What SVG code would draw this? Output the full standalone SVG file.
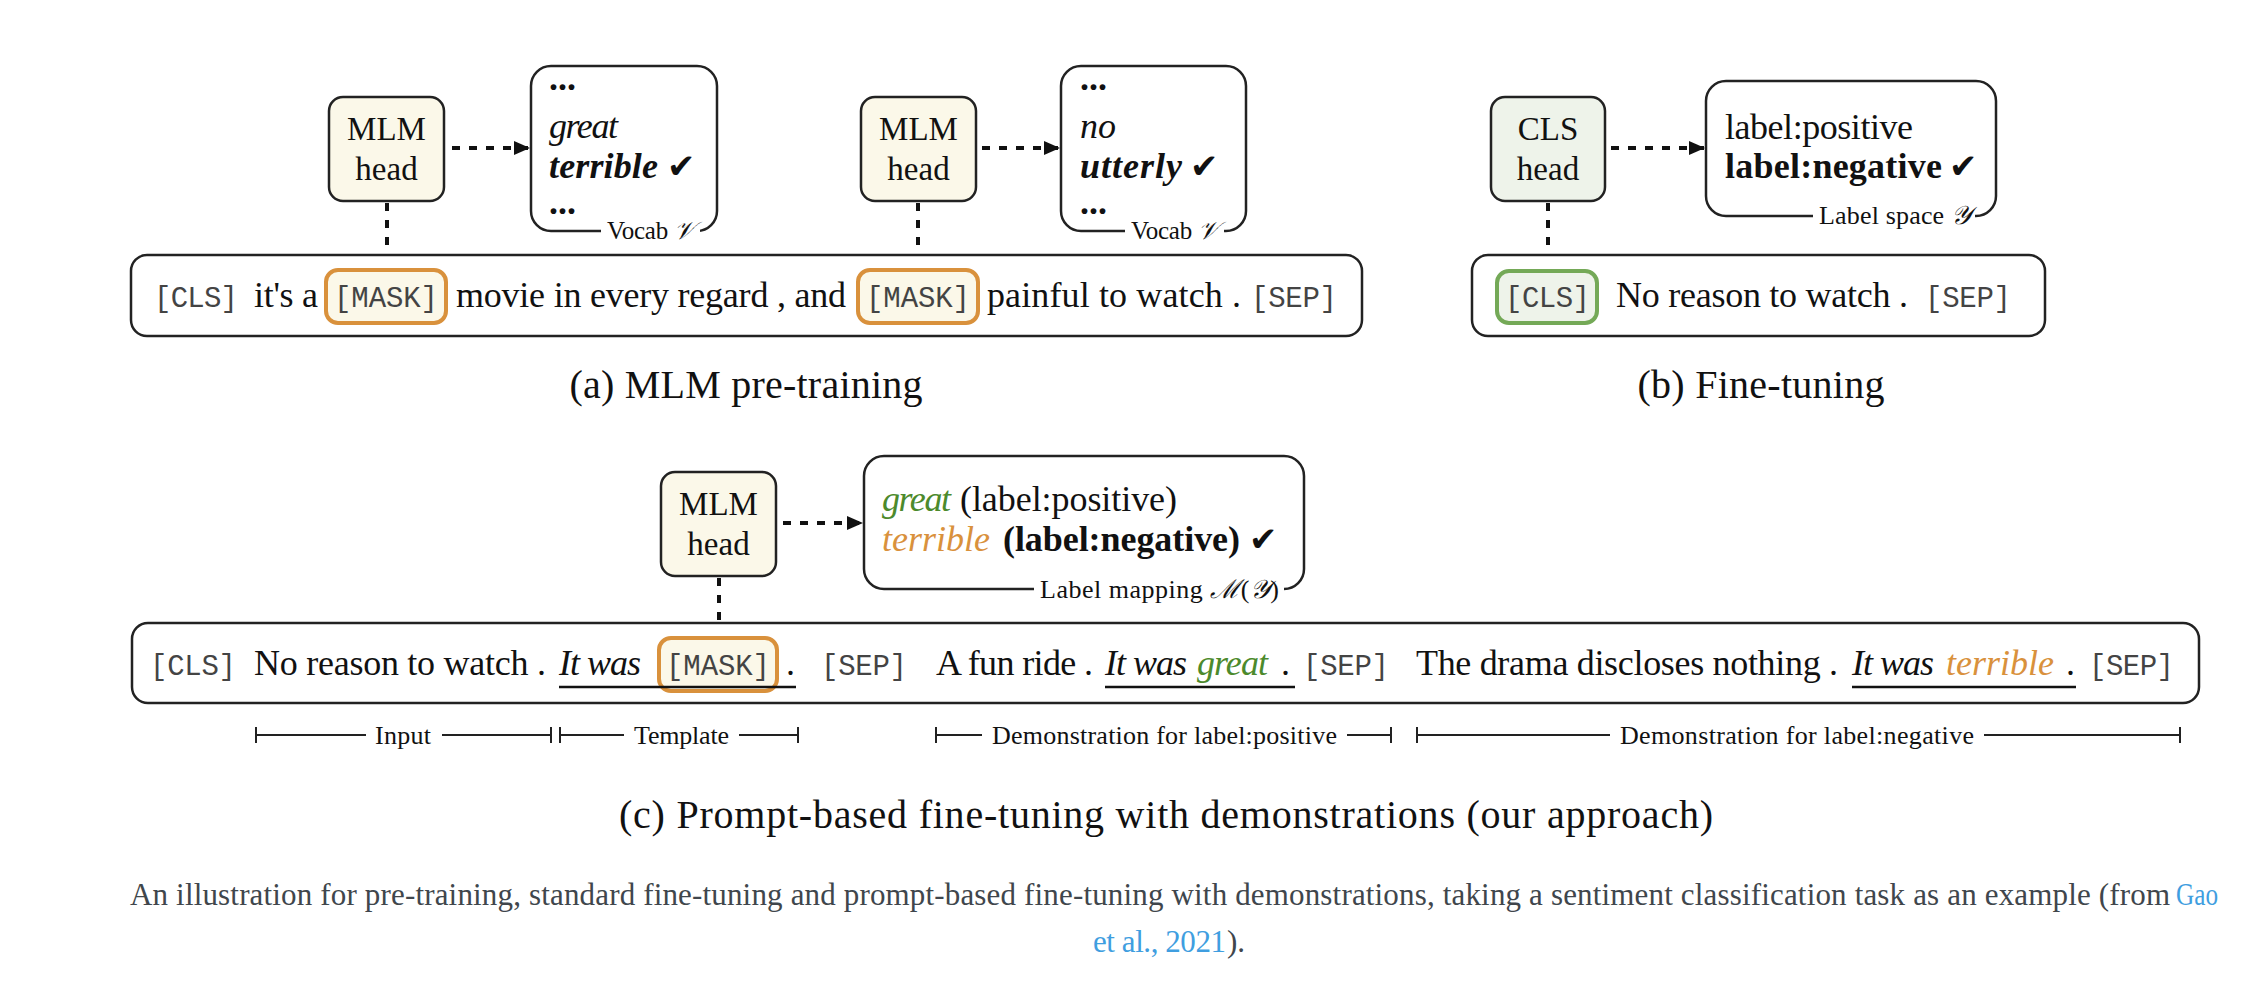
<svg xmlns="http://www.w3.org/2000/svg" width="2244" height="994" viewBox="0 0 2244 994">
<defs>
<style>
.s{font-family:"Liberation Serif",serif;fill:#111}
.m{font-family:"Liberation Mono",monospace;fill:#444;font-size:29px}
.t{font-size:36px}
.h{font-size:33px;text-anchor:middle}
.i{font-style:italic}
.b{font-weight:bold}
.sm{font-size:26px}
.vc{font-size:25px}
.cap{font-size:40px;text-anchor:middle}
.ck{font-family:"DejaVu Sans",sans-serif;font-size:34px;fill:#111}
.box{fill:#fff;stroke:#222;stroke-width:2.5}
.mlm{fill:#fbf8e9;stroke:#222;stroke-width:2.5}
.cls{fill:#eef3ea;stroke:#222;stroke-width:2.5}
.mask{fill:#fbf8e9;stroke:#d9913c;stroke-width:4}
.gbox{fill:#eef3ea;stroke:#74a957;stroke-width:4}
.dot{fill:none;stroke:#111;stroke-width:4;stroke-dasharray:8 9}
.ul{stroke:#111;stroke-width:2.5}
.br{stroke:#222;stroke-width:2;fill:none}
.gap{fill:#fff}
.grn{fill:#4c8a2c}
.org{fill:#d9913c}
.cp{font-family:"Liberation Serif",serif;font-size:31px;fill:#40464c}
.lnk{fill:#3f9ee0}
</style>
<marker id="ah" markerUnits="userSpaceOnUse" markerWidth="16" markerHeight="14" refX="16" refY="7" orient="auto">
<path d="M0,0 L16,7 L0,14 z" fill="#111"/>
</marker>
</defs>
<rect width="2244" height="994" fill="#fff"/>

<g id="connectors">
<line class="dot" x1="452" y1="148" x2="530" y2="148" marker-end="url(#ah)"/>
<line class="dot" x1="982" y1="148" x2="1060" y2="148" marker-end="url(#ah)"/>
<line class="dot" x1="1611" y1="148" x2="1705" y2="148" marker-end="url(#ah)"/>
<line class="dot" x1="783" y1="523" x2="863" y2="523" marker-end="url(#ah)"/>
<line class="dot" x1="387" y1="203" x2="387" y2="270"/>
<line class="dot" x1="918" y1="203" x2="918" y2="270"/>
<line class="dot" x1="1548" y1="203" x2="1548" y2="271"/>
<line class="dot" x1="719" y1="578" x2="719" y2="638"/>
</g>

<!-- Panel (a) -->
<g id="a-sentence">
<rect class="box" x="131" y="255" width="1231" height="81" rx="16"/>
<text class="m" x="154" y="307" textLength="84" lengthAdjust="spacing">[CLS]</text>
<text class="s t" x="254" y="307" textLength="64" lengthAdjust="spacing">it's a</text>
<rect class="mask" x="326" y="270" width="120" height="53" rx="12"/>
<text class="m" x="334" y="307" textLength="104" lengthAdjust="spacing">[MASK]</text>
<text class="s t" x="456" y="307" textLength="390" lengthAdjust="spacing">movie in every regard , and</text>
<rect class="mask" x="858" y="270" width="120" height="53" rx="12"/>
<text class="m" x="866" y="307" textLength="104" lengthAdjust="spacing">[MASK]</text>
<text class="s t" x="987" y="307" textLength="254" lengthAdjust="spacing">painful to watch .</text>
<text class="m" x="1251" y="307" textLength="86" lengthAdjust="spacing">[SEP]</text>
</g>
<g id="a-head1">
<rect class="mlm" x="329" y="97" width="115" height="104" rx="14"/>
<text class="s h" x="386.5" y="140">MLM</text>
<text class="s h" x="386.5" y="180">head</text>
</g>
<g id="a-vocab1">
<rect class="box" x="531" y="66" width="186" height="165" rx="20"/>
<rect class="gap" x="601" y="224" width="99" height="15"/>
<text class="s t b" x="549" y="90">...</text>
<text class="s t i" x="549" y="138" textLength="69" lengthAdjust="spacing">great</text>
<text class="s t i b" x="549" y="178" textLength="109" lengthAdjust="spacing">terrible</text>
<text class="ck" x="667" y="178">✔</text>
<text class="s t b" x="549" y="214">...</text>
<text class="s vc" x="607" y="239" textLength="88" lengthAdjust="spacing">Vocab <tspan class="i">𝒱</tspan></text>
</g>
<g id="a-head2">
<rect class="mlm" x="861" y="97" width="115" height="104" rx="14"/>
<text class="s h" x="918.5" y="140">MLM</text>
<text class="s h" x="918.5" y="180">head</text>
</g>
<g id="a-vocab2">
<rect class="box" x="1061" y="66" width="185" height="165" rx="20"/>
<rect class="gap" x="1125" y="224" width="99" height="15"/>
<text class="s t b" x="1080" y="90">...</text>
<text class="s t i" x="1080" y="138">no</text>
<text class="s t i b" x="1080" y="178" textLength="102" lengthAdjust="spacing">utterly</text>
<text class="ck" x="1190" y="178">✔</text>
<text class="s t b" x="1080" y="214">...</text>
<text class="s vc" x="1131" y="239" textLength="88" lengthAdjust="spacing">Vocab <tspan class="i">𝒱</tspan></text>
</g>
<g id="a-caption">
<text class="s cap" x="746" y="398" textLength="353" lengthAdjust="spacing">(a) MLM pre-training</text>
</g>

<!-- Panel (b) -->
<g id="b-sentence">
<rect class="box" x="1472" y="255" width="573" height="81" rx="16"/>
<rect class="gbox" x="1497" y="271" width="100" height="52" rx="12"/>
<text class="m" x="1505" y="307" textLength="85" lengthAdjust="spacing">[CLS]</text>
<text class="s t" x="1616" y="307" textLength="292" lengthAdjust="spacing">No reason to watch .</text>
<text class="m" x="1925" y="307" textLength="86" lengthAdjust="spacing">[SEP]</text>
</g>
<g id="b-head">
<rect class="cls" x="1491" y="97" width="114" height="104" rx="14"/>
<text class="s h" x="1548" y="140">CLS</text>
<text class="s h" x="1548" y="180">head</text>
</g>
<g id="b-labels">
<rect class="box" x="1706" y="81" width="290" height="135" rx="20"/>
<rect class="gap" x="1813" y="208" width="162" height="15"/>
<text class="s t" x="1725" y="139" textLength="188" lengthAdjust="spacing">label:positive</text>
<text class="s t b" x="1725" y="178" textLength="217" lengthAdjust="spacing">label:negative</text>
<text class="ck" x="1949" y="178">✔</text>
<text class="s sm" x="1819" y="224" textLength="152" lengthAdjust="spacing">Label space <tspan class="i">𝒴</tspan></text>
</g>
<g id="b-caption">
<text class="s cap" x="1761" y="398" textLength="247" lengthAdjust="spacing">(b) Fine-tuning</text>
</g>

<!-- Panel (c) -->
<g id="c-sentence">
<rect class="box" x="132" y="623" width="2067" height="80" rx="16"/>
<text class="m" x="150" y="675" textLength="86" lengthAdjust="spacing">[CLS]</text>
<text class="s t" x="254" y="675" textLength="292" lengthAdjust="spacing">No reason to watch .</text>
<text class="s t i" x="559" y="675" textLength="82" lengthAdjust="spacing">It was</text>
<rect class="mask" x="659" y="638" width="118" height="53" rx="12"/>
<text class="m" x="666" y="675" textLength="104" lengthAdjust="spacing">[MASK]</text>
<text class="s t" x="786" y="675">.</text>
<line class="ul" x1="559" y1="687" x2="796" y2="687"/>
<text class="m" x="821" y="675" textLength="86" lengthAdjust="spacing">[SEP]</text>
<text class="s t" x="936" y="675" textLength="157" lengthAdjust="spacing">A fun ride .</text>
<text class="s t i" x="1105" y="675" textLength="82" lengthAdjust="spacing">It was</text>
<text class="s t i grn" x="1197" y="675" textLength="71" lengthAdjust="spacing">great</text>
<text class="s t" x="1281" y="675">.</text>
<line class="ul" x1="1105" y1="687" x2="1295" y2="687"/>
<text class="m" x="1303" y="675" textLength="86" lengthAdjust="spacing">[SEP]</text>
<text class="s t" x="1416" y="675" textLength="422" lengthAdjust="spacing">The drama discloses nothing .</text>
<text class="s t i" x="1852" y="675" textLength="82" lengthAdjust="spacing">It was</text>
<text class="s t i org" x="1946" y="675" textLength="108" lengthAdjust="spacing">terrible</text>
<text class="s t" x="2066" y="675">.</text>
<line class="ul" x1="1852" y1="687" x2="2076" y2="687"/>
<text class="m" x="2089" y="675" textLength="85" lengthAdjust="spacing">[SEP]</text>
</g>
<g id="c-head">
<rect class="mlm" x="661" y="472" width="115" height="104" rx="14"/>
<text class="s h" x="718.5" y="515">MLM</text>
<text class="s h" x="718.5" y="555">head</text>
</g>
<g id="c-mapping">
<rect class="box" x="864" y="456" width="440" height="133" rx="20"/>
<rect class="gap" x="1034" y="581" width="250" height="15"/>
<text class="s t i grn" x="882" y="511" textLength="69" lengthAdjust="spacing">great</text>
<text class="s t" x="960" y="511" textLength="217" lengthAdjust="spacing">(label:positive)</text>
<text class="s t i org" x="882" y="551" textLength="108" lengthAdjust="spacing">terrible</text>
<text class="s t b" x="1003" y="551" textLength="237" lengthAdjust="spacing">(label:negative)</text>
<text class="ck" x="1249" y="551">✔</text>
<text class="s sm" x="1040" y="598" textLength="239" lengthAdjust="spacing">Label mapping <tspan class="i">ℳ</tspan>(<tspan class="i">𝒴</tspan>)</text>
</g>
<g id="c-spans">
<path class="br" d="M256,727 V743 M256,735 H366 M442,735 H551 M551,727 V743"/>
<text class="s sm" x="375" y="744" textLength="56" lengthAdjust="spacing">Input</text>
<path class="br" d="M560,727 V743 M560,735 H624 M739,735 H798 M798,727 V743"/>
<text class="s sm" x="634" y="744" textLength="95" lengthAdjust="spacing">Template</text>
<path class="br" d="M936,727 V743 M936,735 H982 M1347,735 H1391 M1391,727 V743"/>
<text class="s sm" x="992" y="744" textLength="345" lengthAdjust="spacing">Demonstration for label:positive</text>
<path class="br" d="M1417,727 V743 M1417,735 H1610 M1984,735 H2180 M2180,727 V743"/>
<text class="s sm" x="1620" y="744" textLength="354" lengthAdjust="spacing">Demonstration for label:negative</text>
</g>
<g id="c-caption">
<text class="s cap" x="1166" y="828" textLength="1094" lengthAdjust="spacing">(c) Prompt-based fine-tuning with demonstrations (our approach)</text>
</g>

<g id="figure-caption">
<text class="cp" x="130" y="905" textLength="2040" lengthAdjust="spacing">An illustration for pre-training, standard fine-tuning and prompt-based fine-tuning with demonstrations, taking a sentiment classification task as an example (from</text>
<text class="cp lnk" x="2176" y="905" textLength="42" lengthAdjust="spacingAndGlyphs">Gao</text>
<text class="cp lnk" x="1093" y="952" textLength="133" lengthAdjust="spacing">et al., 2021</text>
<text class="cp" x="1227" y="952">).</text>
</g>
</svg>
